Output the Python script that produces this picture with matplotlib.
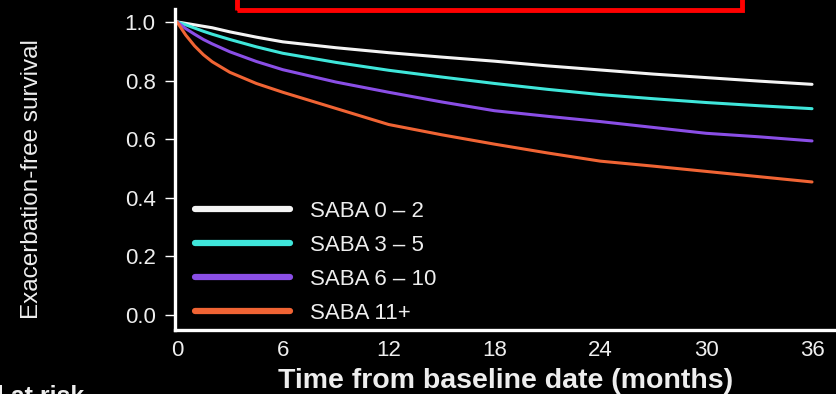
import matplotlib
matplotlib.use("Agg")
import matplotlib.pyplot as plt
from matplotlib.patches import Rectangle

months = [0, 0.5, 1, 1.5, 2, 3, 4.5, 6, 9, 12, 15, 18, 21, 24, 27, 30, 33, 36]
saba_0_2 = [1.0, 0.995, 0.99, 0.985, 0.98, 0.966, 0.948, 0.932, 0.912, 0.895, 0.88, 0.866, 0.85, 0.836, 0.822, 0.81, 0.798, 0.787]
saba_3_5 = [1.0, 0.99, 0.979, 0.968, 0.958, 0.94, 0.915, 0.893, 0.862, 0.835, 0.812, 0.79, 0.77, 0.752, 0.738, 0.725, 0.714, 0.704]
saba_6_10 = [1.0, 0.977, 0.958, 0.94, 0.925, 0.898, 0.865, 0.837, 0.795, 0.76, 0.727, 0.697, 0.678, 0.66, 0.64, 0.62, 0.608, 0.594]
saba_11 = [1.0, 0.955, 0.918, 0.888, 0.864, 0.828, 0.79, 0.76, 0.705, 0.65, 0.615, 0.583, 0.553, 0.525, 0.508, 0.49, 0.472, 0.454]

labels = ["SABA 0 \u2013 2", "SABA 3 \u2013 5", "SABA 6 \u2013 10", "SABA 11+"]
colors = ["#f4f4f4", "#3fe6da", "#8a4ee6", "#f06434"]
x_ticks = [0, 6, 12, 18, 24, 30, 36]
y_ticks = [0.0, 0.2, 0.4, 0.6, 0.8, 1.0]

plt.rcParams['font.family'] = ['Liberation Sans', 'DejaVu Sans']
fig = plt.figure(figsize=(8.36, 3.94), dpi=100, facecolor="black")
ax = fig.add_axes([175/836, (394-330)/394, 1 - 175/836, (330-9)/394])
ax.set_facecolor("black")

for label, vals, col in zip(labels, [saba_0_2, saba_3_5, saba_6_10, saba_11], colors):
    ax.plot(months, vals, color=col, lw=2.2, label=label, solid_capstyle="round")

ax.set_xlim(-0.11, 37.36)
ax.set_ylim(-0.051, 1.044)
ax.set_xticks(x_ticks)
ax.set_xticklabels([str(t) for t in x_ticks])
ax.set_yticks(y_ticks)
ax.set_yticklabels([f"{t:.1f}" for t in y_ticks])

for s in ["top", "right"]:
    ax.spines[s].set_visible(False)
for s in ["left", "bottom"]:
    ax.spines[s].set_color("white")
    ax.spines[s].set_linewidth(2.4)

ax.tick_params(axis="y", colors="white", labelcolor="#eeeeee", length=7, width=1, labelsize=16, pad=7)
ax.tick_params(axis="x", colors="white", labelcolor="#eeeeee", length=0, labelsize=16, pad=7)

ax.set_ylabel("Exacerbation-free survival", color="#eeeeee", fontsize=17.5)
ax.yaxis.set_label_coords(-0.200, 0.47)
ax.set_xlabel("Time from baseline date (months)", color="#eeeeee", fontsize=20.5, fontweight="bold", labelpad=5)

leg = ax.legend(loc="lower left", bbox_to_anchor=(0.030, 0.019), frameon=False, fontsize=16,
                handlelength=4.3, handletextpad=0.9, labelspacing=0.58, borderaxespad=0,
                borderpad=0, labelcolor="#eeeeee")
for h in leg.get_lines():
    h.set_linewidth(4.5)

fig.add_artist(Rectangle((237/836, (394-10)/394), (742-237)/836, 20/394, transform=fig.transFigure,
                         fill=False, edgecolor="#ff0000", linewidth=3.5, clip_on=False))
fig.text(84/836, -10/394, "Total at risk", color="#eeeeee", fontsize=18, fontweight="bold",
         ha="right", va="baseline")

fig.savefig("out.png", dpi=100, facecolor="black")
